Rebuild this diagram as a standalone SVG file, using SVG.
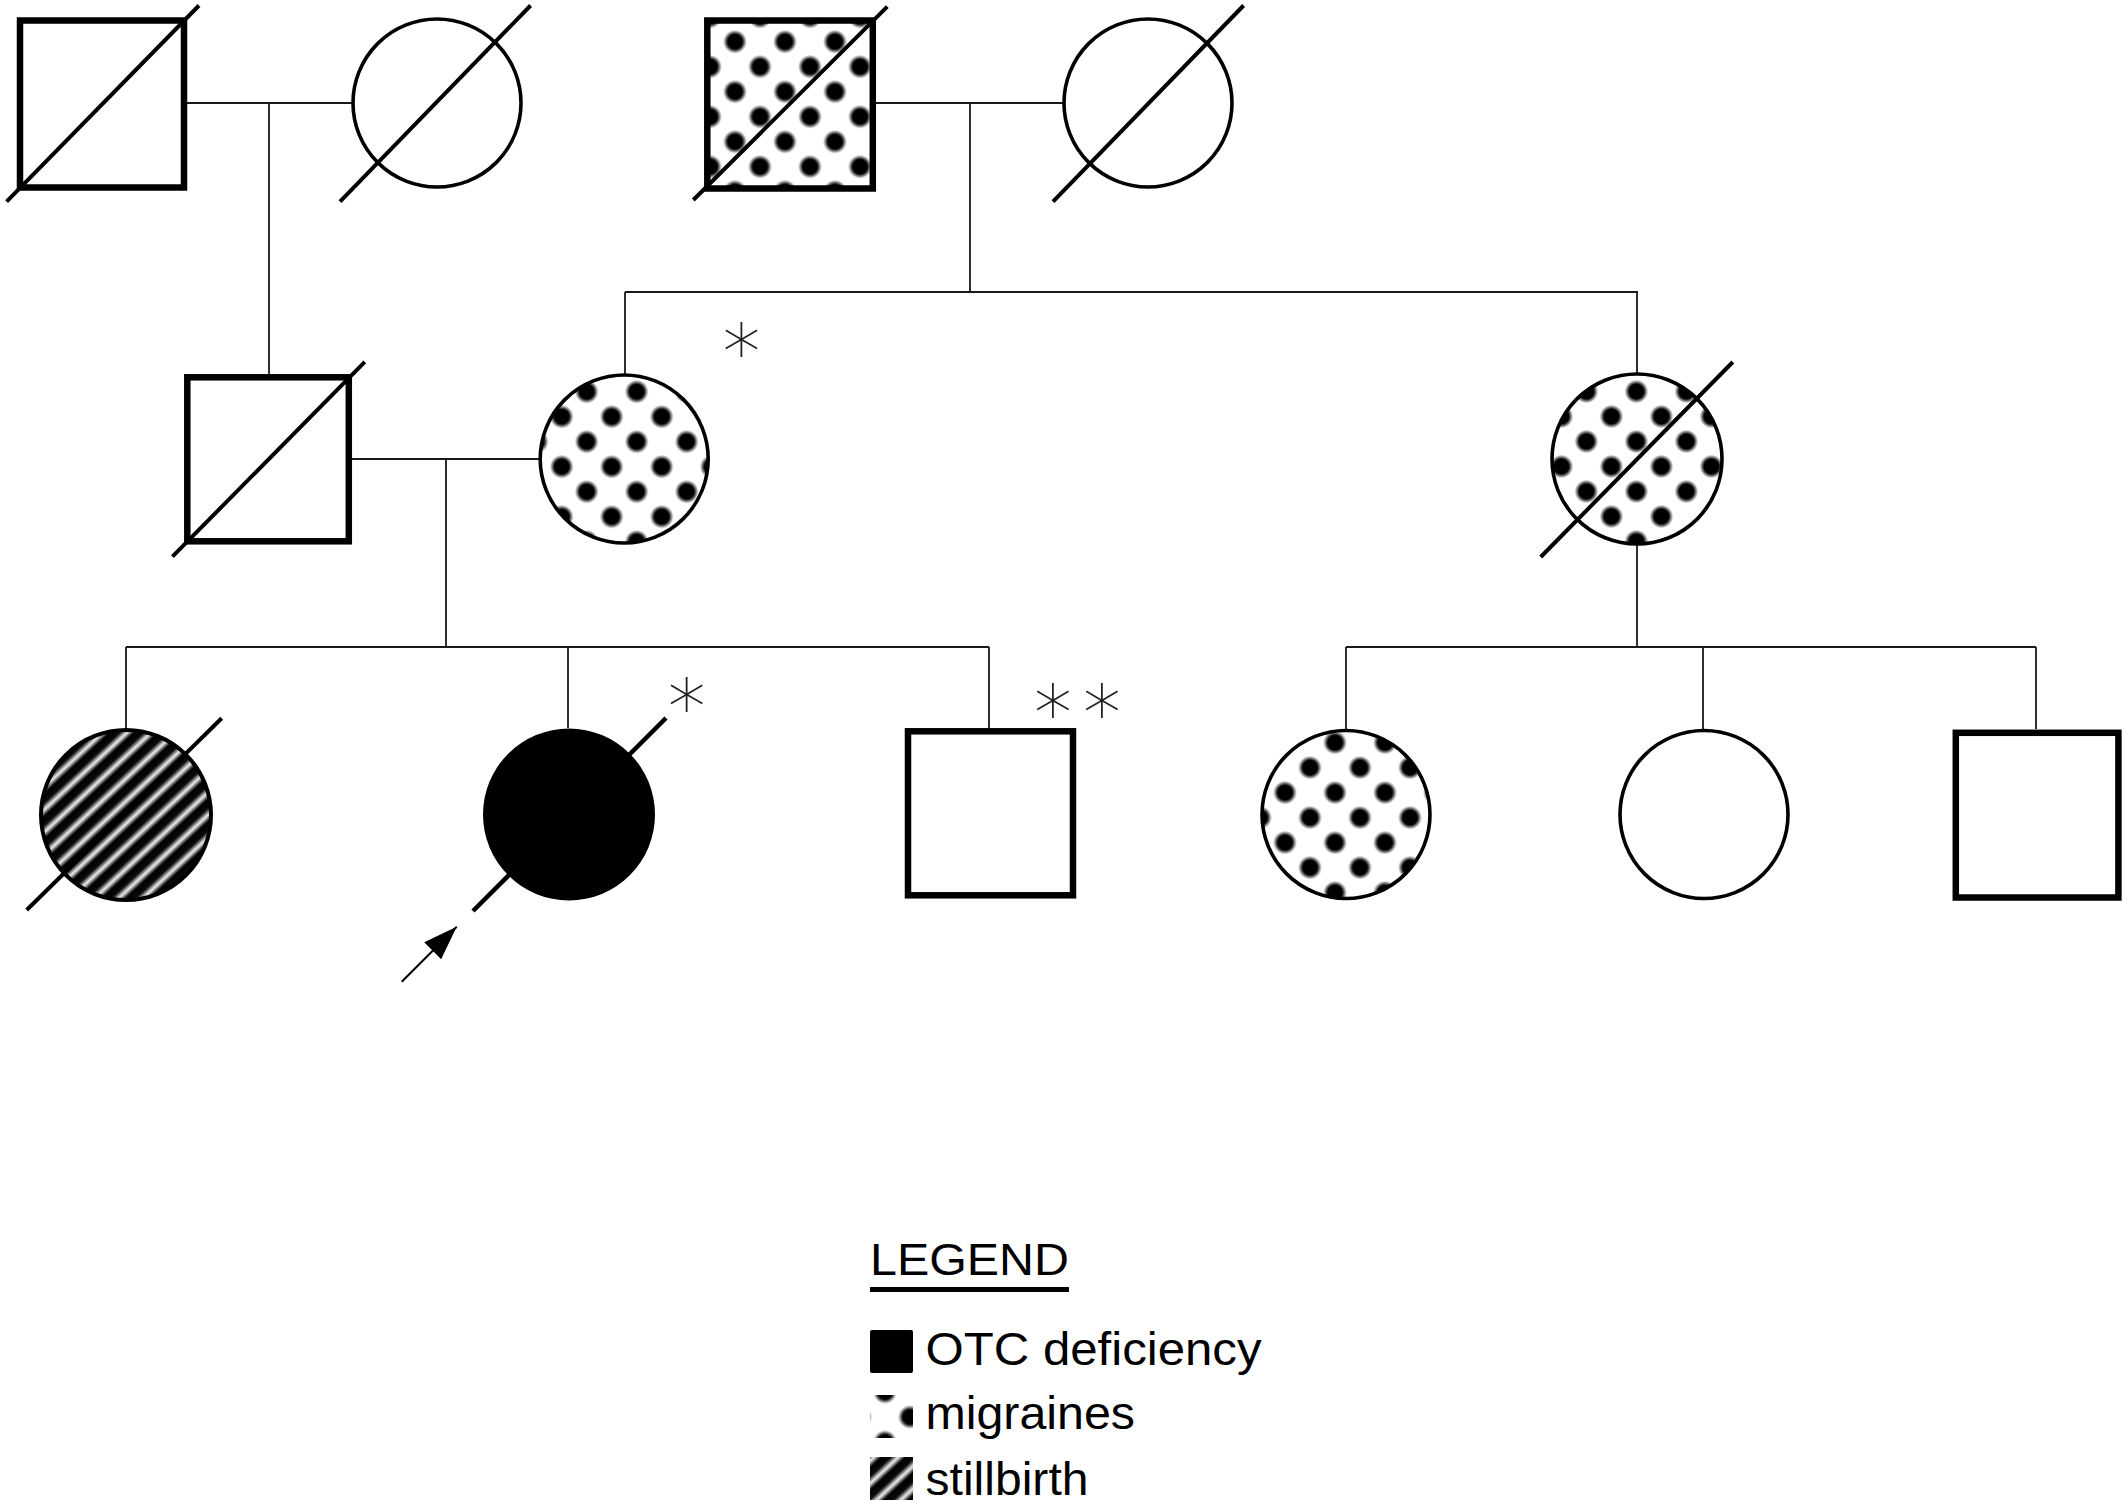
<svg xmlns="http://www.w3.org/2000/svg" width="2128" height="1505" viewBox="0 0 2128 1505">
<style>
.sq{stroke:#000;stroke-width:6.5}
.ci{stroke:#000;stroke-width:3.6}
.dx{stroke:#000;stroke-width:4}
.cn{stroke:#1a1a1a;stroke-width:1.8;fill:none}
.ast{font-family:"DejaVu Sans","Liberation Sans",sans-serif;font-size:76px;font-weight:200;fill:#222;text-anchor:middle}
.lg{font-family:"Liberation Sans",Arial,sans-serif;fill:#000}
</style>
<defs>
<radialGradient id="dotg"><stop offset="0" stop-color="#000"/><stop offset="0.62" stop-color="#000"/><stop offset="1" stop-color="#000" stop-opacity="0"/></radialGradient>
<g id="dotpair"><circle cx="12.5" cy="12.5" r="11.8" fill="url(#dotg)"/><circle cx="37.5" cy="37.5" r="11.8" fill="url(#dotg)"/></g>
<pattern id="pC" patternUnits="userSpaceOnUse" x="722.5" y="29.2" width="50" height="50"><rect width="50" height="50" fill="#fff"/><use href="#dotpair"/></pattern>
<pattern id="pF" patternUnits="userSpaceOnUse" x="574.2" y="379.2" width="50" height="50"><rect width="50" height="50" fill="#fff"/><use href="#dotpair"/></pattern>
<pattern id="pG" patternUnits="userSpaceOnUse" x="1623.9" y="379" width="50" height="50"><rect width="50" height="50" fill="#fff"/><use href="#dotpair"/></pattern>
<pattern id="pK" patternUnits="userSpaceOnUse" x="1322.5" y="780.1" width="50" height="50"><rect width="50" height="50" fill="#fff"/><use href="#dotpair"/></pattern>
<pattern id="pLeg" patternUnits="userSpaceOnUse" x="872.5" y="1379.5" width="50" height="50"><rect width="50" height="50" fill="#fff"/><use href="#dotpair"/></pattern>
<linearGradient id="sg" x1="0" y1="0" x2="1" y2="0"><stop offset="0" stop-color="#000"/><stop offset="0.42" stop-color="#0a0a0a"/><stop offset="0.72" stop-color="#f4f4f4"/><stop offset="1" stop-color="#0a0a0a"/></linearGradient>
<pattern id="stripes" patternUnits="userSpaceOnUse" width="16.5" height="16.5" patternTransform="rotate(47)"><rect width="16.5" height="16.5" fill="url(#sg)"/></pattern>
<marker id="ah" markerUnits="userSpaceOnUse" viewBox="0 0 34 24" refX="34" refY="12" markerWidth="34" markerHeight="24" orient="auto"><path d="M0,0 L34,12 L0,24 z" fill="#000"/></marker>
</defs>
<rect width="2128" height="1505" fill="#fff"/>

<g id="connectors" class="cn">
<path d="M186,103 H352 M269,103 V374 M876,103 H1064 M970,103 V292 M625,292 H1638 M625,292 V375 M1637,292 V374"/>
<path d="M352,459 H540 M446,459 V647 M126,647 H989 M126,647 V730 M568,647 V728 M989,647 V728"/>
<path d="M1637,544 V647 M1346,647 H2036 M1346,647 V730 M1703,647 V730 M2036,647 V729"/>
</g>

<g id="I-1"><rect class="sq" x="20" y="20.5" width="164" height="167" fill="#fff"/><line class="dx" x1="6.6" y1="201.6" x2="199" y2="5.5"/></g>
<g id="I-2"><circle class="ci" cx="437" cy="103" r="84" fill="#fff"/><line class="dx" x1="340" y1="201.6" x2="530.6" y2="5.5"/></g>
<g id="I-3"><rect class="sq" x="707.3" y="20.5" width="165.5" height="168" fill="url(#pC)"/><line class="dx" x1="693.3" y1="200" x2="887.3" y2="6.7"/></g>
<g id="I-4"><circle class="ci" cx="1148" cy="103" r="84" fill="#fff"/><line class="dx" x1="1053" y1="201.6" x2="1243.6" y2="5.5"/></g>

<g id="II-1"><rect class="sq" x="187.3" y="377.3" width="161.5" height="164" fill="#fff"/><line class="dx" x1="172.4" y1="556.7" x2="364.8" y2="361.8"/></g>
<g id="II-2"><circle class="ci" cx="624.2" cy="459" r="84" fill="url(#pF)"/><text class="ast" x="741.5" y="379">*</text></g>
<g id="II-3"><circle class="ci" cx="1637" cy="459" r="85" fill="url(#pG)"/><line class="dx" x1="1540.7" y1="557" x2="1732.8" y2="362"/></g>

<g id="III-1"><circle class="ci" cx="126" cy="815" r="85" fill="url(#stripes)" style="stroke-width:4"/><line class="dx" x1="26.7" y1="910" x2="221.7" y2="718.3"/></g>
<g id="III-2"><circle cx="569" cy="814.5" r="86" fill="#000"/><line class="dx" x1="666" y1="718" x2="473" y2="911" style="stroke-width:4.5"/><line x1="401.7" y1="981.7" x2="456.7" y2="926.7" stroke="#000" stroke-width="2" marker-end="url(#ah)"/><text class="ast" x="686.7" y="734">*</text></g>
<g id="III-3"><rect class="sq" x="908" y="731.3" width="165" height="164" fill="#fff"/><text class="ast" x="1034" y="740" xml:space="preserve" textLength="87" lengthAdjust="spacing" style="text-anchor:start">* *</text></g>
<g id="III-4"><circle class="ci" cx="1346" cy="814.5" r="84" fill="url(#pK)"/></g>
<g id="III-5"><circle class="ci" cx="1704" cy="814.5" r="84" fill="#fff"/></g>
<g id="III-6"><rect class="sq" x="1955.8" y="732.8" width="162.6" height="164.7" fill="#fff"/></g>

<g id="legend">
<text class="lg" x="870" y="1275" font-size="44" textLength="199" lengthAdjust="spacingAndGlyphs">LEGEND</text>
<rect x="870" y="1287" width="199" height="5" fill="#000"/>
<rect x="870" y="1330" width="43" height="43" rx="2" fill="#000"/>
<text class="lg" x="925.5" y="1365" font-size="46" textLength="336" lengthAdjust="spacingAndGlyphs">OTC deficiency</text>
<rect x="870" y="1395" width="43" height="43" fill="url(#pLeg)"/>
<text class="lg" x="925.5" y="1429" font-size="46" textLength="209.5" lengthAdjust="spacingAndGlyphs">migraines</text>
<rect x="870" y="1457" width="43" height="43" fill="url(#stripes)"/>
<text class="lg" x="925.5" y="1495" font-size="46" textLength="163" lengthAdjust="spacingAndGlyphs">stillbirth</text>
</g>
</svg>
